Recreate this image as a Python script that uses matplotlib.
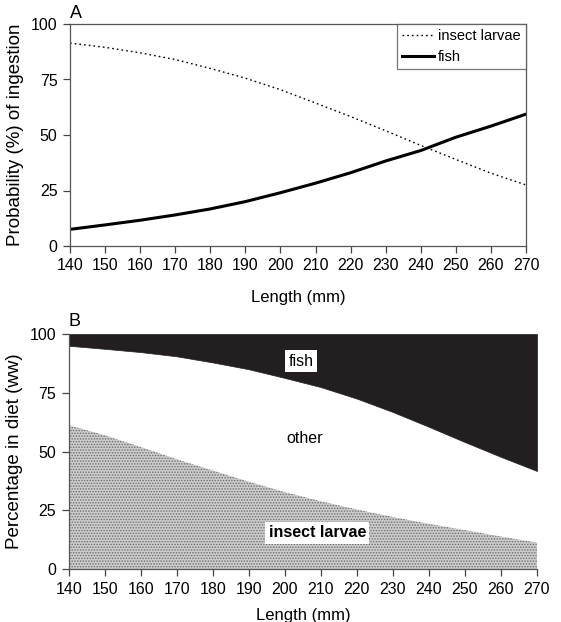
import matplotlib
matplotlib.use("Agg")
import matplotlib.pyplot as plt
import numpy as np

plt.rcParams['font.family'] = ['Liberation Sans', 'DejaVu Sans']
plt.rcParams['hatch.linewidth'] = 0.7

# Panel A: probability of ingestion
length = [140, 150, 160, 170, 180, 190, 200, 210, 220, 230, 240, 250, 260, 270]
prob_insect = [91.4, 89.5, 87.0, 84.0, 80.0, 75.6, 70.4, 64.4, 58.3, 51.9, 45.3, 39.0, 32.8, 27.5]
prob_fish = [7.5, 9.5, 11.6, 14.0, 16.7, 20.0, 24.0, 28.3, 33.0, 38.3, 43.0, 49.0, 54.0, 59.4]

# Panel B: percentage in diet (ww)
diet_insect = [61.3, 57.0, 52.0, 46.8, 42.0, 37.2, 32.8, 28.9, 25.4, 22.2, 19.3, 16.6, 13.9, 11.3]
diet_fish = [5.0, 6.3, 7.7, 9.5, 12.1, 15.0, 18.7, 22.6, 27.5, 33.2, 39.5, 46.0, 52.3, 58.3]

xticks = list(range(140, 271, 10))
yticks = [0, 25, 50, 75, 100]

x = np.array(length)
fig = plt.figure(figsize=(5.61, 6.22), dpi=100)

axA = fig.add_axes([70/561, 1-246/622, (526-70)/561, (246-24)/622])
axA.plot(x, prob_insect, color='black', lw=1.0, ls=(0, (1.2, 2.2)), label='insect larvae')
axA.plot(x, prob_fish, color='black', lw=2.2, label='fish')
axA.set_xlim(140, 270)
axA.set_ylim(0, 100)
axA.set_xticks(xticks)
axA.set_yticks(yticks)
for s in axA.spines.values():
    s.set_color('#555555')
    s.set_linewidth(0.9)
axA.tick_params(direction='out', length=5, width=0.9, color='#444444', labelsize=11.5, pad=4)
axA.set_xlabel('Length (mm)', fontsize=12, labelpad=12)
axA.set_ylabel('Probability (%) of ingestion', fontsize=13.5, labelpad=5)
leg = axA.legend(loc='upper right', fontsize=10.5, frameon=True, fancybox=False,
                 edgecolor='#555555', borderaxespad=0, handlelength=2.2,
                 handletextpad=0.3, borderpad=0.35, labelspacing=0.45)
leg.get_frame().set_linewidth(0.9)
fig.text(70/561, 1-13/622, 'A', fontsize=13, va='center', ha='left')

axB = fig.add_axes([68.7/561, 1-569/622, (537-68.7)/561, (569-334)/622])
ins = np.array(diet_insect)
fsh = np.array(diet_fish)
axB.fill_between(x, 0, ins, facecolor='#cccccc', edgecolor='#6e6e6e', hatch='......', lw=0)
axB.fill_between(x, ins, 100 - fsh, facecolor='white', lw=0)
axB.fill_between(x, 100 - fsh, 100, facecolor='#231f20', edgecolor='#231f20', lw=0.5)
axB.set_xlim(140, 270)
axB.set_ylim(0, 100)
axB.set_xticks(xticks)
axB.set_yticks(yticks)
for k in ['top', 'right']:
    axB.spines[k].set_visible(False)
for k in ['left', 'bottom']:
    axB.spines[k].set_color('#555555')
    axB.spines[k].set_linewidth(0.9)
axB.tick_params(direction='out', length=5, width=0.9, color='#444444', labelsize=11.5, pad=4)
axB.set_xlabel('Length (mm)', fontsize=12, labelpad=8)
axB.set_ylabel('Percentage in diet (ww)', fontsize=13.5, labelpad=5)
axB.text(204.5, 88.5, 'fish', fontsize=11.5, ha='center', va='center',
         bbox=dict(facecolor='white', edgecolor='none', pad=2.5))
axB.text(205.5, 55.5, 'other', fontsize=11.5, ha='center', va='center')
axB.text(209, 15.4, 'insect larvae', fontsize=11.5, ha='center', va='center', fontweight='bold',
         bbox=dict(facecolor='white', edgecolor='none', pad=2.5))
fig.text(68/561, 1-322/622, 'B', fontsize=13, va='center', ha='left')

fig.savefig('out.png', dpi=100)
